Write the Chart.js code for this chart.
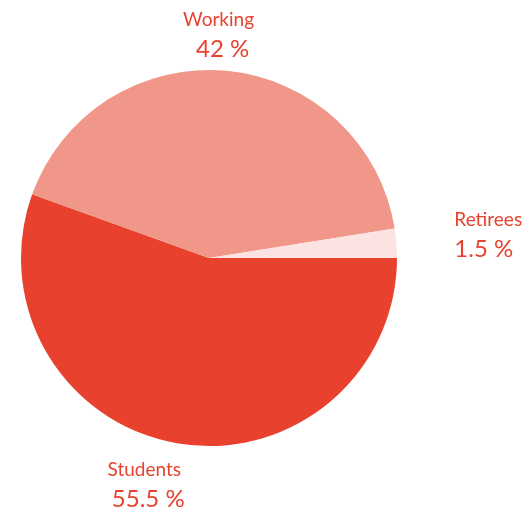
<!DOCTYPE html>
<html>
<head>
<meta charset="utf-8">
<script src="https://cdn.jsdelivr.net/npm/chart.js@4/dist/chart.umd.min.js"></script>
<style>
  html, body { margin: 0; padding: 0; background: #fff; }
  #wrap { width: 526px; height: 510px; }
</style>
</head>
<body>
<div id="wrap"><canvas id="pie"></canvas></div>
<script>
const categories = ['Students', 'Working', 'Retirees'];
// slice sizes as drawn in the picture
const shares     = [55.5, 42, 2.5];
// value texts as printed next to the slices
const shareTexts = ['55.5 %', '42 %', '1.5 %'];
const colors     = ['#e8412d', '#f0978a', '#fbe3e1'];

// label nudges relative to a point just outside each slice
const labelPlace = [
  { dx: -29, dy: 13,  align: 'center' },
  { dx: -10, dy: -25, align: 'center' },
  { dx: 38,  dy: -16, align: 'left' }
];

const outsideLabels = {
  id: 'outsideLabels',
  afterDraw(chart) {
    const ctx = chart.ctx;
    const arcs = chart.getDatasetMeta(0).data;
    ctx.save();
    ctx.fillStyle = '#e8412d';
    ctx.textBaseline = 'alphabetic';
    arcs.forEach((arc, i) => {
      const mid = (arc.startAngle + arc.endAngle) / 2;
      const r = arc.outerRadius + 20;
      const x = arc.x + Math.cos(mid) * r + labelPlace[i].dx;
      const y = arc.y + Math.sin(mid) * r + labelPlace[i].dy;
      const vx = labelPlace[i].align === 'center' ? x + 4 : x;
      ctx.textAlign = labelPlace[i].align;
      ctx.font = '19px Lato';
      ctx.fillText(categories[i], x, y);
      ctx.font = '24px Lato';
      ctx.fillText(shareTexts[i], vx, y + 31);
    });
    ctx.restore();
  }
};

new Chart(document.getElementById('pie'), {
  type: 'pie',
  data: {
    labels: categories,
    datasets: [{
      data: shares,
      backgroundColor: colors,
      borderWidth: 0
    }]
  },
  options: {
    responsive: true,
    maintainAspectRatio: false,
    animation: false,
    rotation: 90,
    layout: { padding: { left: 21, right: 129, top: 70, bottom: 64 } },
    plugins: {
      legend: { display: false },
      tooltip: { enabled: false }
    }
  },
  plugins: [outsideLabels]
});
</script>
</body>
</html>
